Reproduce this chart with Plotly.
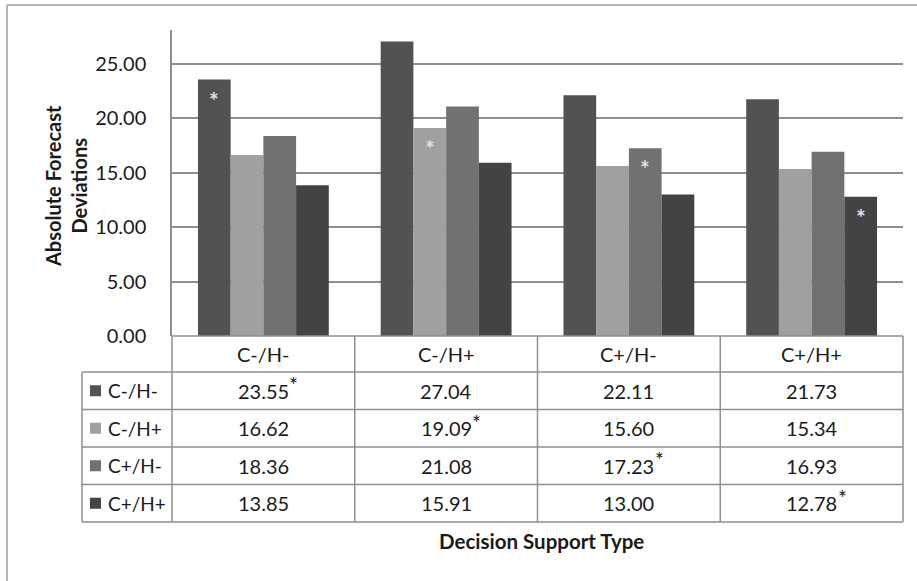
import plotly.graph_objects as go

categories = ["C-/H-", "C-/H+", "C+/H-", "C+/H+"]
series_names = ["C-/H-", "C-/H+", "C+/H-", "C+/H+"]
values = {
    "C-/H-": [23.55, 27.04, 22.11, 21.73],
    "C-/H+": [16.62, 19.09, 15.60, 15.34],
    "C+/H-": [18.36, 21.08, 17.23, 16.93],
    "C+/H+": [13.85, 15.91, 13.00, 12.78],
}
# significant cells (per series, per category)
significant = {"C-/H-": [True, False, False, False],
               "C-/H+": [False, True, False, False],
               "C+/H-": [False, False, True, False],
               "C+/H+": [False, False, False, True]}
colors = ["#525252", "#a0a0a0", "#717171", "#434343"]
y_ticks = [0, 5, 10, 15, 20, 25]

FONT = "Lato"
W, H = 917, 581
L, R, T, B = 172, 903, 30, 336
BARGAP = 0.284
TXT = "#1a1a1a"
FS = 20


def px2x(px):
    return (px - L) / (R - L)


def py2y(py):
    return (B - py) / (B - T)


fig = go.Figure()
for k, name in enumerate(series_names):
    fig.add_trace(go.Bar(x=categories, y=values[name], name=name,
                         marker=dict(color=colors[k], line=dict(width=0)),
                         showlegend=False, hoverinfo="skip"))

shapes = []
annotations = []


def note(xp, yp, text, size=FS, color=TXT, xanchor="center", yanchor="middle", **kw):
    annotations.append(dict(x=px2x(xp), y=py2y(yp), xref="paper", yref="paper", text=text,
                            showarrow=False, xanchor=xanchor, yanchor=yanchor,
                            font=dict(family=FONT, size=size, color=color), **kw))


# asterisks on bars
bw = (1 - BARGAP) / len(series_names)
for k, name in enumerate(series_names):
    for i, cat in enumerate(categories):
        if significant[name][i]:
            annotations.append(dict(x=i + (k - 1.5) * bw, y=values[name][i], xref="x", yref="y",
                                    text="<b>*</b>", showarrow=False, xanchor="center",
                                    yanchor="top", yshift=-4,
                                    font=dict(family=FONT, size=23, color="#e0e0e8")))

# table geometry
line_c = "#8f8f8f"
col_w = (R - L) / len(categories)
row_top = [336, 372, 409.5, 447, 484.5, 522]
leg_left = 82


def hline(y, x0, x1):
    shapes.append(dict(type="line", xref="paper", yref="paper", x0=px2x(x0), x1=px2x(x1),
                       y0=py2y(y), y1=py2y(y), line=dict(color=line_c, width=1.5)))


def vline(x, y0, y1):
    shapes.append(dict(type="line", xref="paper", yref="paper", x0=px2x(x), x1=px2x(x),
                       y0=py2y(y0), y1=py2y(y1), line=dict(color=line_c, width=1.5)))


hline(row_top[0], L, R)
for y in row_top[1:]:
    hline(y, leg_left, R)
for i in range(len(categories) + 1):
    vline(L + i * col_w, row_top[0], row_top[-1])
vline(leg_left, row_top[1], row_top[-1])

# header
for i, cat in enumerate(categories):
    note(L + (i + 0.5) * col_w, (row_top[0] + row_top[1]) / 2, cat)

# rows
for k, name in enumerate(series_names):
    yc = (row_top[k + 1] + row_top[k + 2]) / 2
    shapes.append(dict(type="rect", xref="paper", yref="paper",
                       x0=px2x(90), x1=px2x(101), y0=py2y(yc - 5.5), y1=py2y(yc + 5.5),
                       fillcolor=colors[k], line=dict(width=0)))
    note(106, yc, name, size=19, xanchor="left")
    for i in range(len(categories)):
        xc = L + (i + 0.5) * col_w
        note(xc, yc, f"{values[name][i]:.2f}")
        if significant[name][i]:
            note(xc + 24, yc - 6, "*", size=21, xanchor="left")

# axis titles
annotations.append(dict(x=px2x(66), y=py2y(186), xref="paper", yref="paper",
                        text="<b>Absolute Forecast<br>Deviations</b>", textangle=-90,
                        showarrow=False, xanchor="center", yanchor="middle",
                        font=dict(family=FONT, size=20, color=TXT)))
note(541, 541, "<b>Decision Support Type</b>", size=20.5)

# outer border (left and top)
shapes.append(dict(type="line", xref="paper", yref="paper", x0=px2x(7), x1=px2x(7),
                   y0=py2y(5), y1=py2y(600), line=dict(color="#b5b5b5", width=2)))
shapes.append(dict(type="line", xref="paper", yref="paper", x0=px2x(7), x1=px2x(930),
                   y0=py2y(5), y1=py2y(5), line=dict(color="#b5b5b5", width=2)))

fig.update_layout(
    template="none",
    width=W, height=H,
    margin=dict(l=L, r=W - R, t=T, b=H - B, pad=0),
    paper_bgcolor="white", plot_bgcolor="white",
    barmode="group", bargap=BARGAP, bargroupgap=0,
    shapes=shapes, annotations=annotations,
    font=dict(family=FONT, size=FS, color=TXT),
    xaxis=dict(type="category", range=[-0.5, 3.5], showticklabels=False, showgrid=False,
               showline=False, zeroline=False, ticks="", automargin=False),
    yaxis=dict(range=[0, 28.1], tickvals=y_ticks, tickformat=".2f", showgrid=True,
               gridcolor="#8f8f8f", gridwidth=1.5, showline=True, linecolor="#8f8f8f",
               linewidth=1.5, zeroline=False, ticks="", ticklabelstandoff=20,
               tickfont=dict(family=FONT, size=FS, color=TXT), automargin=False),
)

fig.write_html("out.html", config={"displayModeBar": False},
               post_script="document.body.style.margin='0';")
